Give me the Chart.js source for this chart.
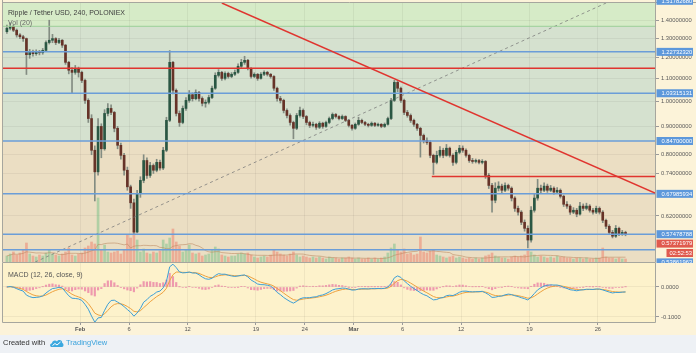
<!DOCTYPE html>
<html lang="en">
<head>
<meta charset="UTF-8">
<title>Ripple / Tether USD, 240, POLONIEX</title>
<script src="https://cdn.jsdelivr.net/npm/chart.js@4.4.1/dist/chart.umd.min.js"></script>
<style>
    html, body { margin: 0; padding: 0; }
    body {
        width: 696px; height: 353px; position: relative; overflow: hidden;
        background: #fcf3d9;
        font-family: "Liberation Sans", Arial, sans-serif;
    }
    #priceBox { position: absolute; left: 0; top: 0; width: 696px; height: 263px; }
    #macdBox { position: absolute; left: 0; top: 263px; width: 696px; height: 72px; }
    .legend { position: absolute; left: 8px; font-size: 7px; line-height: 7px; white-space: nowrap; }
    #footer { position: absolute; left: 0; top: 335px; width: 696px; height: 18px; background: #eef1f5; }
    #footer span { position: absolute; top: 4px; font-size: 7.5px; line-height: 8px; white-space: nowrap; }
    .made { left: 3px; color: #333; }
    .tv { left: 66px; color: #3aa2dc; }
    #footer svg { position: absolute; left: 49px; top: 3px; }
</style>
</head>
<body>

<div id="priceBox"><canvas id="priceChart"></canvas></div>
<div id="macdBox"><canvas id="macdChart"></canvas></div>

<div class="legend" style="top:9px;color:#3d3d3d">Ripple / Tether USD, 240, POLONIEX</div>
<div class="legend" style="top:18.5px;color:#6a6a6a">Vol (20)</div>
<div class="legend" style="top:270.5px;color:#555">MACD (12, 26, close, 9)</div>

<div id="footer">
    <span class="made">Created with</span>
    <svg width="15" height="10" viewBox="0 0 15 10">
        <path d="M3 9 C0.5 9 0.5 5.5 3 5.2 C3.2 2.5 6.5 1.5 8 3.5 C9.5 1 13.5 2 13.2 5 C15 5.3 15 9 13 9 Z" fill="#3ba8df"/>
        <path d="M3.5 7.5 L6 5.5 L8 7 L11.5 4" stroke="#fff" stroke-width="1" fill="none"/>
    </svg>
    <span class="tv">TradingView</span>
</div>

<script>
// 8h candles, x measured in days from Feb 1 00:00
const START_DAY = -7.667;   // first candle opens Jan 24 08:00
const STEP = 1 / 3;
const firstOpen = 1.335;

const closes = [
    1.354,1.365,1.343,1.317,1.307,1.297,1.213,1.228,1.218,1.228,
    1.223,1.235,1.276,1.288,1.297,1.276,1.288,1.262,1.175,1.137,
    1.127,1.146,1.127,1.090,1.003,0.930,0.815,0.745,0.900,0.820,
    0.950,0.970,0.954,0.893,0.832,0.798,0.750,0.700,0.655,0.580,
    0.681,0.719,0.781,0.734,0.765,0.750,0.775,0.757,0.815,0.923,
    1.175,1.046,0.950,0.915,0.970,1.003,1.027,1.010,1.037,1.011,
    0.991,0.995,1.015,1.055,1.113,1.127,1.099,1.122,1.108,1.118,
    1.127,1.156,1.175,1.185,1.146,1.108,1.118,1.099,1.118,1.127,
    1.118,1.108,1.055,1.011,1.003,0.962,0.942,0.915,0.893,0.942,
    0.962,0.938,0.915,0.904,0.908,0.897,0.912,0.900,0.915,0.930,
    0.946,0.938,0.930,0.938,0.923,0.904,0.893,0.908,0.923,0.915,
    0.908,0.904,0.912,0.904,0.908,0.900,0.908,0.930,1.003,1.081,
    1.055,1.003,0.954,0.942,0.923,0.908,0.893,0.867,0.849,0.842,
    0.798,0.775,0.798,0.815,0.798,0.822,0.798,0.775,0.808,0.822,
    0.815,0.798,0.781,0.778,0.781,0.775,0.778,0.734,0.704,0.662,
    0.696,0.702,0.690,0.704,0.696,0.668,0.640,0.630,0.604,0.589,
    0.561,0.635,0.668,0.696,0.690,0.702,0.690,0.696,0.685,0.690,
    0.673,0.651,0.646,0.630,0.635,0.625,0.646,0.640,0.646,0.635,
    0.630,0.640,0.630,0.609,0.594,0.579,0.570,0.589,0.575,0.579,
    0.5737
];
const highs = [
    1.372,1.385,1.372,1.350,1.325,1.315,1.300,1.240,1.236,1.238,
    1.235,1.245,1.285,1.400,1.320,1.302,1.298,1.292,1.266,1.180,
    1.150,1.160,1.152,1.133,1.096,1.010,0.945,0.830,0.930,0.910,
    0.965,0.990,0.985,0.958,0.900,0.840,0.805,0.760,0.705,0.665,
    0.690,0.730,0.800,0.790,0.775,0.770,0.785,0.782,0.825,0.935,
    1.234,1.180,1.052,0.960,0.980,1.015,1.045,1.035,1.048,1.042,
    1.018,1.005,1.025,1.065,1.125,1.140,1.132,1.130,1.128,1.126,
    1.138,1.168,1.190,1.205,1.190,1.150,1.125,1.122,1.126,1.134,
    1.132,1.122,1.112,1.060,1.020,1.008,0.968,0.948,0.920,0.950,
    0.975,0.968,0.942,0.920,0.916,0.912,0.918,0.916,0.920,0.936,
    0.952,0.950,0.942,0.944,0.941,0.927,0.908,0.913,0.935,0.928,
    0.919,0.912,0.917,0.915,0.913,0.911,0.913,0.936,1.012,1.090,
    1.088,1.060,1.008,0.962,0.948,0.928,0.912,0.897,0.872,0.858,
    0.848,0.802,0.812,0.828,0.822,0.835,0.826,0.803,0.815,0.832,
    0.830,0.820,0.802,0.788,0.786,0.785,0.784,0.781,0.740,0.710,
    0.712,0.715,0.708,0.712,0.708,0.700,0.672,0.646,0.634,0.610,
    0.595,0.645,0.680,0.722,0.705,0.712,0.708,0.704,0.700,0.698,
    0.694,0.676,0.658,0.650,0.642,0.640,0.656,0.652,0.654,0.650,
    0.640,0.646,0.644,0.634,0.612,0.598,0.584,0.596,0.592,0.584,
    0.582
];
const lows = [
    1.325,1.345,1.335,1.305,1.296,1.282,1.117,1.195,1.205,1.210,
    1.212,1.215,1.230,1.268,1.275,1.265,1.270,1.250,1.165,1.120,
    1.035,1.118,1.105,1.080,0.990,0.915,0.800,0.660,0.735,0.790,
    0.815,0.940,0.945,0.880,0.820,0.785,0.735,0.690,0.640,0.575,
    0.578,0.670,0.712,0.725,0.728,0.740,0.745,0.750,0.752,0.810,
    0.918,1.030,0.940,0.900,0.910,0.962,0.995,1.000,1.005,1.000,
    0.980,0.975,0.988,1.010,1.050,1.105,1.090,1.092,1.100,1.102,
    1.112,1.122,1.150,1.165,1.138,1.100,1.102,1.090,1.095,1.112,
    1.110,1.100,1.045,1.000,0.992,0.952,0.932,0.905,0.855,0.888,
    0.935,0.930,0.906,0.896,0.898,0.889,0.892,0.893,0.896,0.910,
    0.925,0.932,0.925,0.926,0.918,0.898,0.886,0.889,0.904,0.910,
    0.903,0.898,0.900,0.899,0.900,0.895,0.896,0.905,0.926,0.998,
    1.040,0.995,0.945,0.935,0.915,0.900,0.885,0.792,0.840,0.835,
    0.790,0.737,0.770,0.792,0.790,0.795,0.792,0.765,0.770,0.803,
    0.808,0.792,0.775,0.772,0.773,0.770,0.770,0.725,0.695,0.630,
    0.655,0.688,0.682,0.686,0.690,0.660,0.632,0.622,0.598,0.582,
    0.543,0.556,0.630,0.662,0.683,0.686,0.684,0.686,0.679,0.680,
    0.668,0.645,0.640,0.624,0.626,0.618,0.622,0.634,0.636,0.630,
    0.625,0.626,0.625,0.603,0.588,0.574,0.566,0.567,0.571,0.572,
    0.571
];
// volume, millions USDT
const volumes = [
    0.6,0.8,1.0,0.7,0.9,1.2,1.9,0.8,0.6,0.5,
    0.7,0.6,0.9,1.2,0.8,0.7,0.6,0.8,1.0,1.4,
    0.7,0.6,0.8,0.9,1.4,1.6,2.0,1.8,6.4,1.2,
    1.7,1.0,0.9,1.0,1.1,0.8,1.2,2.7,2.4,3.0,
    2.2,1.0,1.3,0.9,0.8,1.0,0.9,1.1,2.2,1.8,
    2.4,3.3,2.0,1.6,1.0,1.2,1.7,0.9,0.8,0.9,
    0.6,0.7,0.8,1.2,1.5,1.3,0.7,0.6,0.5,0.6,
    0.6,0.8,0.9,0.8,0.9,0.7,0.5,0.4,0.5,0.6,
    0.5,0.7,1.2,1.0,0.8,0.7,0.6,0.8,1.0,0.7,
    0.5,0.6,0.5,0.4,0.5,0.4,0.5,0.4,0.3,0.5,
    0.4,0.4,0.3,0.4,0.4,0.5,0.4,0.3,0.4,0.3,
    0.3,0.4,0.3,0.4,0.3,0.4,0.5,0.9,1.4,1.8,
    1.2,1.0,1.3,0.8,0.9,0.7,0.8,2.5,1.0,0.9,
    1.1,1.2,0.7,0.6,0.5,0.4,0.5,0.6,0.4,0.5,
    0.4,0.3,0.4,0.3,0.4,0.3,0.4,0.6,0.7,0.9,
    0.6,0.5,0.4,0.4,0.3,0.5,0.6,0.5,0.6,0.7,
    1.1,1.0,0.7,0.5,0.6,0.5,0.4,0.5,0.4,0.6,
    0.5,0.5,0.4,0.4,0.3,0.4,0.4,0.3,0.4,0.3,
    0.3,0.4,0.4,1.4,0.5,0.4,0.4,0.3,0.4,0.3,
    0.3
];

const xTickDays = [0, 5, 11, 18, 23, 28, 33, 39, 46, 53];
const xTickLabels = ['Feb', '6', '12', '19', '24', 'Mar', '6', '12', '19', '26'];
const priceTicks = [1.4, 1.3, 1.2, 1.1, 1.0, 0.9, 0.8, 0.74, 0.62];
const macdTicks = [0, -0.1];

// drawings on the chart
const blueLevels = [1.22732320, 1.03315131, 0.84700000, 0.67985934, 0.57478788, 0.53861963];
const greenLevel = 1.365;
const redLevel = 1.147;
const redShelf = { from: 36, price: 0.731 };
const redTrend = [[14.5, 1.504], [58.85, 0.682]];
const dashTrend = [[-4.6, 0.512], [53.84, 1.504]];
const topLevel = 1.51782680;
const lastPrice = 0.57371979;
const countdown = '02:52:53';

const X_MIN = -7.9, X_MAX = 58.85;
const PRICE_MIN = 0.512, PRICE_MAX = 1.504;
const MACD_MIN = -0.1167, MACD_MAX = 0.08;

const FONT = '"Liberation Sans", Arial, sans-serif';
const GRID = 'rgba(0,0,0,0.05)';
const BLUE = '#6b9dd8', RED = '#e0352f';
const UP = '#2a5743', DOWN = '#663328', WICK = '#838c82';

Chart.defaults.font.family = FONT;

const candleX = closes.map((_, i) => START_DAY + (i + 0.5) * STEP);
const opens = closes.map((c, i) => i ? closes[i - 1] : firstOpen);
const isUp = i => closes[i] >= opens[i];

// indicators (4h lengths carried over to 8h candles)
function ema(src, a) {
    let e = src[0];
    return src.map((v, i) => (e = i ? a * v + (1 - a) * e : v));
}
const k = n => 1 - Math.pow(1 - 2 / (n + 1), 2);
const fast = ema(closes, k(12)), slow = ema(closes, k(26));
const macd = fast.map((v, i) => v - slow[i]);
const signal = ema(macd, k(9));
const hist = macd.map((v, i) => v - signal[i]);
const volMA = volumes.map((v, i) => {
    const part = volumes.slice(Math.max(0, i - 9), i + 1);
    return part.reduce((a, b) => a + b, 0) / part.length;
});

const pts = (ys) => ys.map((y, i) => ({ x: candleX[i], y }));

function segment(p1, p2, color, width, dash) {
    return {
        type: 'line', yAxisID: 'y', order: 10,
        data: [{ x: p1[0], y: p1[1] }, { x: p2[0], y: p2[1] }],
        borderColor: color, borderWidth: width, borderDash: dash || [],
        pointRadius: 0, tension: 0
    };
}

const paneBg = {
    id: 'paneBg',
    beforeDraw(chart, args, opts) {
        const { ctx, chartArea: a } = chart;
        ctx.save();
        ctx.fillStyle = '#fcf3d9';
        ctx.fillRect(a.right, 0, chart.width - a.right, chart.height);
        ctx.fillStyle = opts.base;
        ctx.fillRect(a.left, a.top, a.right - a.left, a.bottom - a.top);
        (opts.bands || []).forEach(b => {
            const y = chart.scales.y;
            const y2 = Math.min(a.bottom, y.getPixelForValue(b.to));
            ctx.fillStyle = b.color;
            ctx.fillRect(a.left, a.top, a.right - a.left, y2 - a.top);
        });
        ctx.restore();
    }
};

const paneFrame = {
    id: 'paneFrame',
    afterDraw(chart, args, opts) {
        const { ctx, chartArea: a } = chart;
        ctx.save();
        ctx.strokeStyle = '#a6a69e';
        ctx.lineWidth = 1;
        ctx.beginPath();
        if (opts.top) { ctx.moveTo(2.5, 2.5); ctx.lineTo(chart.width, 2.5); }
        ctx.moveTo(2.5, 0); ctx.lineTo(2.5, a.bottom + 0.5);
        ctx.moveTo(a.right + 0.5, 0); ctx.lineTo(a.right + 0.5, a.bottom + 0.5);
        ctx.moveTo(2.5, a.bottom + 0.5); ctx.lineTo(a.right + 0.5, a.bottom + 0.5);
        ctx.stroke();
        ctx.restore();
    }
};

// price labels on the right axis for drawings and the last price
const levelLabels = {
    id: 'levelLabels',
    afterDraw(chart) {
        const { ctx, chartArea: a } = chart;
        const y = chart.scales.y;
        const items = [{ v: topLevel, text: topLevel.toFixed(8), bg: '#5d98db' }]
            .concat(blueLevels.map(v => ({ v, text: v.toFixed(8), bg: '#5d98db' })))
            .concat([{ v: lastPrice, text: lastPrice.toFixed(8), bg: '#e05a4e' },
                     { v: lastPrice, text: countdown, bg: '#e05a4e', narrow: true }]);
        items.forEach(it => it.py = y.getPixelForValue(it.v));
        items.sort((p, q) => p.py - q.py);
        let prev = -Infinity;
        items.forEach(it => { it.py = Math.max(it.py, prev + 9.4); prev = it.py; });
        ctx.save();
        ctx.font = '5.8px ' + FONT;
        ctx.textBaseline = 'middle';
        items.forEach(it => {
            const x0 = it.narrow ? a.right + 11.5 : a.right + 1.5;
            ctx.fillStyle = it.bg;
            ctx.fillRect(x0, it.py - 4, 693 - x0, 8);
            ctx.fillStyle = '#fff';
            ctx.fillText(it.text, it.narrow ? x0 + 3 : a.right + 6.5, it.py + 0.3);
        });
        ctx.restore();
    }
};

const xTicksAt = s => { s.ticks = xTickDays.map(v => ({ value: v })); };

new Chart(document.getElementById('priceChart'), {
    type: 'bar',
    data: {
        datasets: [
            segment(redTrend[0], redTrend[1], RED, 1.5),
            segment([X_MIN, redLevel], [X_MAX, redLevel], RED, 1.5),
            segment([redShelf.from, redShelf.price], [X_MAX, redShelf.price], RED, 1.5),
            segment([X_MIN, greenLevel], [X_MAX, greenLevel], '#9ccf98', 1),
            ...blueLevels.map(v => segment([X_MIN, v], [X_MAX, v], BLUE, 1.5)),
            segment(dashTrend[0], dashTrend[1], 'rgba(120,120,120,0.75)', 1, [3, 3]),
            {
                label: 'bodies', data: closes.map((c, i) => ({ x: candleX[i], y: [opens[i], c] })),
                yAxisID: 'y', grouped: false, barThickness: 2, minBarLength: 1, order: 30,
                backgroundColor: ctx => isUp(ctx.dataIndex) ? UP : DOWN
            },
            {
                label: 'wicks', data: highs.map((h, i) => ({ x: candleX[i], y: [lows[i], h] })),
                yAxisID: 'y', grouped: false, barThickness: 1, order: 40, backgroundColor: WICK
            },
            {
                type: 'line', label: 'Vol MA', data: pts(volMA), yAxisID: 'yv', order: 45,
                borderColor: 'rgba(190,140,100,0.6)', borderWidth: 1, pointRadius: 0
            },
            {
                label: 'Volume', data: pts(volumes), yAxisID: 'yv', grouped: false, barThickness: 2, order: 50,
                backgroundColor: ctx => isUp(ctx.dataIndex) ? 'rgba(96,185,122,0.42)' : 'rgba(238,104,86,0.42)'
            }
        ]
    },
    options: {
        responsive: true, maintainAspectRatio: false, animation: false, devicePixelRatio: 1,
        layout: { padding: { left: 3, top: 3, right: 0, bottom: 1 } },
        plugins: {
            legend: { display: false }, tooltip: { enabled: false },
            paneBg: { base: '#ebdec3', bands: [{ to: 0.847, color: '#d5e1cf' }, { to: greenLevel, color: '#d6ebc7' }] },
            paneFrame: { top: true }
        },
        scales: {
            x: {
                type: 'linear', min: X_MIN, max: X_MAX, offset: false,
                afterBuildTicks: xTicksAt,
                afterFit: s => { s.height = 0; s.paddingLeft = 0; s.paddingRight = 0; },
                ticks: { display: false },
                grid: { color: GRID, drawTicks: false, offset: false },
                border: { display: false }
            },
            y: {
                type: 'logarithmic', position: 'right', min: PRICE_MIN, max: PRICE_MAX,
                afterBuildTicks: s => { s.ticks = priceTicks.map(v => ({ value: v })); },
                afterFit: s => { s.width = 41; s.paddingTop = 0; s.paddingBottom = 0; },
                ticks: { callback: v => Number(v).toFixed(8), color: '#5a5a5a', font: { size: 5.8 }, padding: 2, autoSkip: false },
                grid: { color: GRID, tickColor: '#9a9a9a', tickLength: 4 },
                border: { display: false }
            },
            yv: { type: 'linear', display: false, min: 0, max: 25.9 }
        }
    },
    plugins: [paneBg, paneFrame, levelLabels]
});

new Chart(document.getElementById('macdChart'), {
    type: 'bar',
    data: {
        datasets: [
            {
                type: 'line', label: 'MACD', data: pts(macd), order: 10,
                borderColor: '#3d9fd6', borderWidth: 1, pointRadius: 0
            },
            {
                type: 'line', label: 'Signal', data: pts(signal), order: 11,
                borderColor: '#eea23f', borderWidth: 1, pointRadius: 0
            },
            {
                label: 'Histogram', data: pts(hist), grouped: false, barThickness: 1.5, order: 20,
                backgroundColor: 'rgba(225,80,150,0.55)'
            }
        ]
    },
    options: {
        responsive: true, maintainAspectRatio: false, animation: false, devicePixelRatio: 1,
        layout: { padding: { left: 3, top: 0, right: 0, bottom: 0 } },
        plugins: {
            legend: { display: false }, tooltip: { enabled: false },
            paneBg: { base: '#fdf2cb' },
            paneFrame: { top: false }
        },
        scales: {
            x: {
                type: 'linear', min: X_MIN, max: X_MAX, offset: false,
                afterBuildTicks: xTicksAt,
                afterFit: s => { s.height = 13; s.paddingLeft = 0; s.paddingRight = 0; },
                ticks: {
                    callback: v => xTickLabels[xTickDays.indexOf(v)],
                    color: '#555', padding: 1, maxRotation: 0, autoSkip: false,
                    font: c => ({ size: 5.8, weight: (c.index === 0 || c.index === 5) ? 'bold' : 'normal' })
                },
                grid: { color: GRID, tickColor: '#9a9a9a', tickLength: 3, offset: false },
                border: { display: false }
            },
            y: {
                type: 'linear', position: 'right', min: MACD_MIN, max: MACD_MAX,
                afterBuildTicks: s => { s.ticks = macdTicks.map(v => ({ value: v })); },
                afterFit: s => { s.width = 41; s.paddingTop = 0; s.paddingBottom = 0; },
                ticks: { callback: v => Number(v).toFixed(4), color: '#5a5a5a', font: { size: 5.8 }, padding: 2, autoSkip: false },
                grid: { color: GRID, tickColor: '#9a9a9a', tickLength: 4 },
                border: { display: false }
            }
        }
    },
    plugins: [paneBg, paneFrame]
});
</script>
</body>
</html>
